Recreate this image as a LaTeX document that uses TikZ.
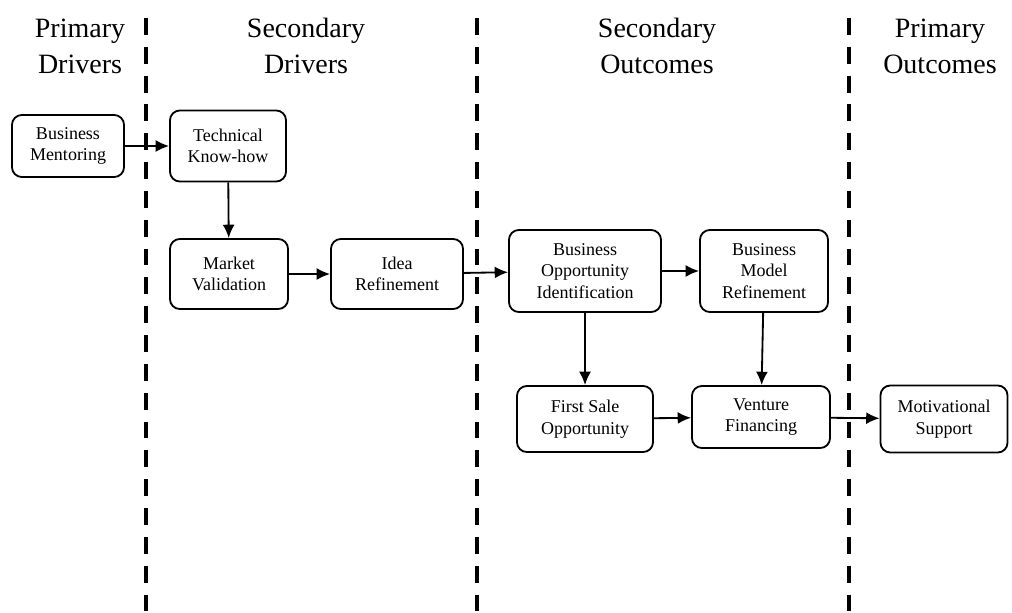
\documentclass[tikz,border=0pt]{standalone}
\usepackage{fontspec}
\setmainfont{Liberation Serif}
\usetikzlibrary{arrows.meta,positioning}

\begin{document}
\begin{tikzpicture}[x=0.025cm,y=-0.025cm,>=Latex,
  box/.style={draw,rounded corners=7pt,line width=1.3pt,align=center,inner sep=0pt,
    font=\fontsize{12.8}{15.4}\selectfont},
  hdr/.style={align=center,font=\fontsize{19.9}{25.6}\selectfont},
  divider/.style={line width=2.3pt,dash pattern=on 12pt off 8.5pt},
  arr/.style={->,line width=1.3pt,>={Latex[length=9.5pt,width=8.5pt]}}]
  \useasboundingbox (0,0) rectangle (1012,612);

  % column dividers
  \foreach \x in {146,477,849}
    \draw[divider] (\x,18) -- (\x,612);

  % column headings
  \node[hdr] (h1) at (80,46)  {Primary\\Drivers};
  \node[hdr] (h2) at (306,46) {Secondary\\Drivers};
  \node[hdr] (h3) at (657,46) {Secondary\\Outcomes};
  \node[hdr] (h4) at (940,46) {Primary\\Outcomes};

  % boxes
  \node[box,minimum width=2.8cm,minimum height=1.55cm]   (bm)  at (68,146)  {Business\\Mentoring};
  \node[box,minimum width=2.9cm,minimum height=1.775cm]  (tk)  at (228,146) {Technical\\Know-how};
  \node[box,minimum width=2.95cm,minimum height=1.75cm]  (mv)  at (229,274) {Market\\Validation};
  \node[box,minimum width=3.3cm,minimum height=1.75cm]   (ir)  at (397,274) {Idea\\Refinement};
  \node[box,minimum width=3.8cm,minimum height=2.05cm]   (boi) at (585,271) {Business\\Opportunity\\Identification};
  \node[box,minimum width=3.2cm,minimum height=2.05cm]   (bmr) at (764,271) {Business\\Model\\Refinement};
  \node[box,minimum width=3.4cm,minimum height=1.65cm]   (fso) at (585,419) {First Sale\\Opportunity};
  \node[box,minimum width=3.45cm,minimum height=1.55cm]  (vf)  at (761,417) {Venture\\Financing};
  \node[box,minimum width=3.175cm,minimum height=1.675cm] (ms) at (944,419) {Motivational\\Support};

  % links
  \foreach \u/\v in {bm/tk,tk/mv,mv/ir,ir/boi,boi/bmr,boi/fso,bmr/vf,fso/vf,vf/ms}
    \draw[arr] (\u) -- (\v);
\end{tikzpicture}
\end{document}
